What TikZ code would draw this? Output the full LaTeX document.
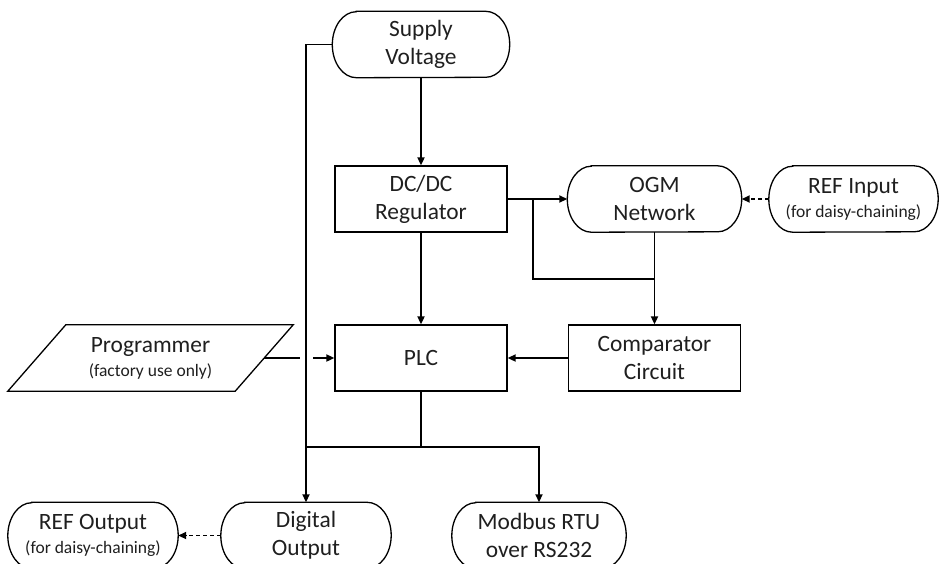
\documentclass[tikz,border=0pt]{standalone}
\usepackage{fontspec}
\setmainfont{Carlito}
\usetikzlibrary{calc,arrows.meta}
\tikzset{
  box/.style={draw, line width=1.3pt, minimum width=172pt, minimum height=66pt, align=center, inner sep=0pt},
  pill/.style={minimum width=172pt, minimum height=66pt, align=center, inner sep=0pt},
  wire/.style={line width=1.8pt},
  feed/.style={wire, -{Triangle[length=8pt,width=7pt]}},
  chain/.style={feed, dash pattern=on 4pt off 3pt},
}
\newcommand{\note}[1]{{\fontsize{17.5}{20}\selectfont #1}}

\begin{document}
\begin{tikzpicture}[x=1pt,y=-1pt,font=\fontsize{23.4}{28}\selectfont,text=black!88]
\useasboundingbox (0,0) rectangle (942,563);
% blocks
\node[pill,minimum width=177pt] (supply) at (421,44.5) {Supply\\Voltage};
\node[box] (dcdc) at (421,199) {DC/DC\\Regulator};
\node[pill,minimum width=174pt] (ogm) at (654.5,199) {OGM\\Network};
\node[pill,minimum width=169pt] (refin) at (853.5,199) {REF Input\\[-4pt]\note{(for daisy-chaining)}};
\node[box] (plc) at (421,358) {PLC};
\node[box] (comp) at (654.5,358) {Comparator\\Circuit};
\node[pill,minimum width=227pt] (prog) at (150.5,358) {Programmer\\[-4pt]\note{(factory use only)}};
\node[pill,minimum width=170pt] (digout) at (306,535.5) {Digital\\Output};
\node[pill,minimum width=170pt] (refout) at (93,535.5) {REF Output\\[-4pt]\note{(for daisy-chaining)}};
\node[pill,minimum width=174pt] (modbus) at (539,535.5) {Modbus RTU\\over RS232};
% outlines
\foreach \n in {supply,ogm,refin,digout,refout,modbus}
  {\draw[line width=1.3pt] ($(\n.north west)+(24,0)$) -- ($(\n.north east)+(-24,0)$)
     arc[start angle=90,end angle=-90,x radius=24pt,y radius=33pt]
     -- ($(\n.south west)+(24,0)$)
     arc[start angle=270,end angle=90,x radius=24pt,y radius=33pt] -- cycle;}
\draw[line width=1.3pt] ($(prog.south west)+(-29,0)$) -- ($(prog.north west)+(29,0)$)
  -- ($(prog.north east)+(29,0)$) -- ($(prog.south east)+(-29,0)$) -- cycle;
% connectors
\coordinate (split) at (533,199);
\coordinate (merge) at (654.5,279);
\coordinate (bus) at (421,447);
\coordinate (hopl) at (300,358);
\coordinate (hopr) at (313,358);
\draw[feed] (supply.south) -- (dcdc.north);
\draw[feed] (supply.west) -| (digout.north);
\draw[feed] (dcdc.east) -- (ogm.west);
\draw[wire] (split) |- (merge);
\draw[feed] (ogm.south) -- (comp.north);
\draw[feed] (dcdc.south) -- (plc.north);
\draw[feed] (comp.west) -- (plc.east);
\draw[wire] (prog.east) -- (hopl);
\draw[feed] (hopr) -- (plc.west);
\draw[wire] (plc.south) -- (bus);
\draw[feed] (bus) -| (modbus.north);
\draw[wire] (bus) -- (bus -| digout.north);
\draw[chain] (refin.west) -- (ogm.east);
\draw[chain] (digout.west) -- (refout.east);
\end{tikzpicture}
\end{document}
